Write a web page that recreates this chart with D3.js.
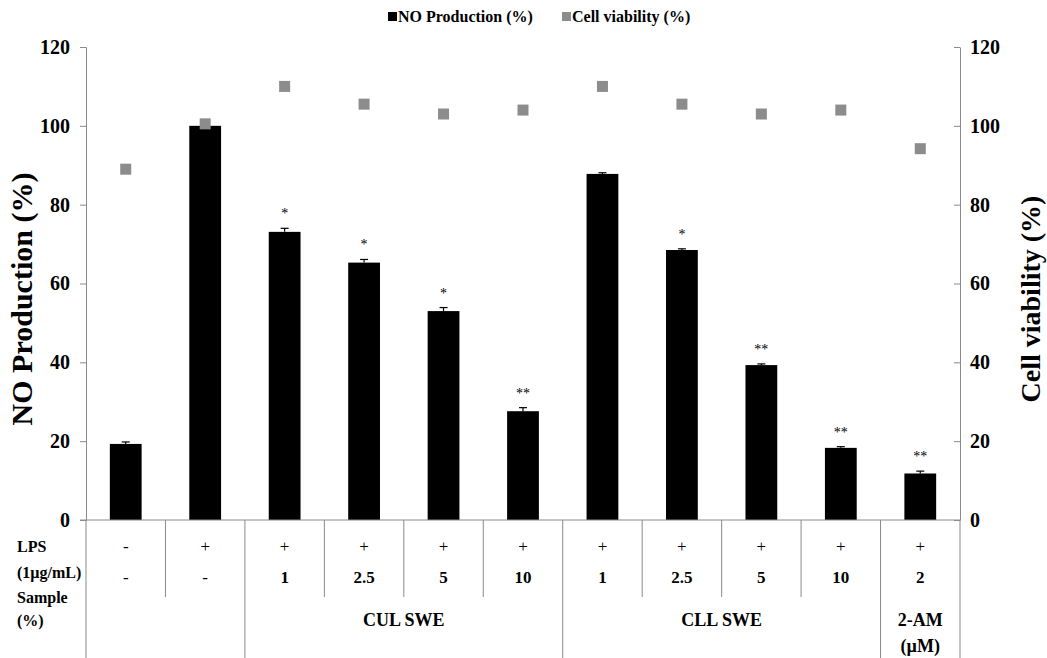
<!DOCTYPE html>
<html>
<head>
<meta charset="utf-8">
<script src="https://cdn.jsdelivr.net/npm/d3@7"></script>
<style>
body { margin: 0; background: #fff; }
text { font-family: "Liberation Serif", "Times New Roman", serif; }
</style>
</head>
<body>
<div id="vis"></div>
<script>
var groups = ['c1', 'c2', 'c3', 'c4', 'c5', 'c6', 'c7', 'c8', 'c9', 'c10', 'c11'];
var no_values = [19.3, 100, 73.1, 65.3, 53, 27.6, 87.8, 68.5, 39.3, 18.3, 11.8];
var no_errors = [0.5, 0.2, 0.9, 0.8, 0.9, 0.9, 0.3, 0.3, 0.3, 0.3, 0.6];
var viability = [89, 100.5, 110, 105.5, 103, 104, 110, 105.5, 103, 104, 94.2];
var stars = ['', '', '*', '*', '*', '**', '', '*', '**', '**', '**'];
var lps_row = ['-', '+', '+', '+', '+', '+', '+', '+', '+', '+', '+'];
var sample_row = ['-', '-', '1', '2.5', '5', '10', '1', '2.5', '5', '10', '2'];
var y_ticks = [0, 20, 40, 60, 80, 100, 120];

var width = 1047, height = 658;
var margin = { top: 47, left: 86, right: 87, bottom: 138 };
var plot_w = width - margin.left - margin.right;
var plot_h = height - margin.top - margin.bottom;

var svg = d3.select('#vis')
    .append('svg')
    .attr('width', width)
    .attr('height', height);

var g = svg.append('g')
    .attr('transform', 'translate(' + margin.left + ',' + margin.top + ')');

var x_scale = d3.scaleBand()
    .domain(groups)
    .range([0, plot_w])
    .paddingInner(0.6)
    .paddingOuter(0.3);

var y_scale = d3.scaleLinear()
    .domain([0, 120])
    .range([plot_h, 0]);

var axis_col = '#8a8a8a';

// left axis
var y_left = g.append('g')
    .call(d3.axisLeft(y_scale).tickValues(y_ticks).tickSize(6).tickPadding(10));
y_left.select('.domain').attr('stroke', axis_col);
y_left.selectAll('.tick line').attr('stroke', axis_col);
y_left.selectAll('.tick text')
    .attr('font-size', 20).attr('font-weight', 'bold')
    .attr('font-family', 'Liberation Serif').attr('fill', '#000');

// right axis (ticks drawn inward like the source)
var y_right = g.append('g')
    .attr('transform', 'translate(' + plot_w + ',0)')
    .call(d3.axisRight(y_scale).tickValues(y_ticks).tickSize(0).tickPadding(10));
y_right.select('.domain').attr('stroke', axis_col);
y_right.selectAll('.tick').append('line')
    .attr('x1', -6).attr('x2', 0).attr('stroke', axis_col);
y_right.selectAll('.tick text')
    .attr('font-size', 20).attr('font-weight', 'bold')
    .attr('font-family', 'Liberation Serif').attr('fill', '#000');

// bars
g.selectAll('.bar')
    .data(groups)
    .enter()
    .append('rect')
    .attr('class', 'bar')
    .attr('x', function (d) { return x_scale(d); })
    .attr('width', x_scale.bandwidth())
    .attr('y', function (d, i) { return y_scale(no_values[i]); })
    .attr('height', function (d, i) { return plot_h - y_scale(no_values[i]); })
    .attr('fill', '#000');

// error bars
var err = g.selectAll('.err')
    .data(groups)
    .enter()
    .append('g')
    .attr('class', 'err')
    .attr('transform', function (d) {
        return 'translate(' + (x_scale(d) + x_scale.bandwidth() / 2) + ',0)';
    });
err.append('line')
    .attr('x1', 0).attr('x2', 0)
    .attr('y1', function (d, i) { return y_scale(no_values[i]); })
    .attr('y2', function (d, i) { return y_scale(no_values[i] + no_errors[i]); })
    .attr('stroke', '#000').attr('stroke-width', 1.2);
err.append('line')
    .attr('x1', -4).attr('x2', 4)
    .attr('y1', function (d, i) { return y_scale(no_values[i] + no_errors[i]); })
    .attr('y2', function (d, i) { return y_scale(no_values[i] + no_errors[i]); })
    .attr('stroke', '#000').attr('stroke-width', 1.2);

// significance marks
g.selectAll('.star')
    .data(groups)
    .enter()
    .append('text')
    .attr('class', 'star')
    .attr('x', function (d) { return x_scale(d) + x_scale.bandwidth() / 2; })
    .attr('y', function (d, i) { return y_scale(no_values[i] + no_errors[i]) - 10; })
    .attr('text-anchor', 'middle')
    .attr('font-size', 14)
    .attr('fill', '#000')
    .text(function (d, i) { return stars[i]; });

// cell viability markers
g.selectAll('.via')
    .data(groups)
    .enter()
    .append('rect')
    .attr('class', 'via')
    .attr('x', function (d) { return x_scale(d) + x_scale.bandwidth() / 2 - 5.5; })
    .attr('y', function (d, i) { return y_scale(viability[i]) - 5.5; })
    .attr('width', 11)
    .attr('height', 11)
    .attr('fill', '#8c8c8c');

// x baseline
g.append('line')
    .attr('x1', -6).attr('x2', plot_w)
    .attr('y1', plot_h).attr('y2', plot_h)
    .attr('stroke', axis_col);

// table under the chart
var full_lines = [0, 2, 6, 10, 11];
var short_lines = [1, 3, 4, 5, 7, 8, 9];
g.selectAll('.vfull')
    .data(full_lines)
    .enter()
    .append('line')
    .attr('x1', function (k) { return k * plot_w / 11; })
    .attr('x2', function (k) { return k * plot_w / 11; })
    .attr('y1', plot_h).attr('y2', height - margin.top)
    .attr('stroke', axis_col);
g.selectAll('.vshort')
    .data(short_lines)
    .enter()
    .append('line')
    .attr('x1', function (k) { return k * plot_w / 11; })
    .attr('x2', function (k) { return k * plot_w / 11; })
    .attr('y1', plot_h).attr('y2', plot_h + 77)
    .attr('stroke', axis_col);

var cx = function (d) { return x_scale(d) + x_scale.bandwidth() / 2; };

g.selectAll('.lps')
    .data(groups)
    .enter()
    .append('text')
    .attr('x', cx)
    .attr('y', plot_h + 32)
    .attr('text-anchor', 'middle')
    .attr('font-size', 17)
    .text(function (d, i) { return lps_row[i]; });

g.selectAll('.smp')
    .data(groups)
    .enter()
    .append('text')
    .attr('x', cx)
    .attr('y', plot_h + 63)
    .attr('text-anchor', 'middle')
    .attr('font-size', 17)
    .attr('font-weight', function (d, i) { return sample_row[i] == '-' ? 'normal' : 'bold'; })
    .text(function (d, i) { return sample_row[i]; });

var group_labels = [
    { text: 'CUL SWE', from: 2, to: 6, y: 106 },
    { text: 'CLL SWE', from: 6, to: 10, y: 106 },
    { text: '2-AM', from: 10, to: 11, y: 106 },
    { text: '(\u00b5M)', from: 10, to: 11, y: 132 }
];
g.selectAll('.grp')
    .data(group_labels)
    .enter()
    .append('text')
    .attr('x', function (d) { return (d.from + d.to) / 2 * plot_w / 11; })
    .attr('y', function (d) { return plot_h + d.y; })
    .attr('text-anchor', 'middle')
    .attr('font-size', 18)
    .attr('font-weight', 'bold')
    .text(function (d) { return d.text; });

var row_labels = [
    { text: 'LPS', y: 552 },
    { text: '(1\u00b5g/mL)', y: 578 },
    { text: 'Sample', y: 603 },
    { text: '(%)', y: 626 }
];
svg.selectAll('.rowlab')
    .data(row_labels)
    .enter()
    .append('text')
    .attr('x', 17)
    .attr('y', function (d) { return d.y; })
    .attr('font-size', 16)
    .attr('font-weight', 'bold')
    .text(function (d) { return d.text; });

// axis titles
svg.append('text')
    .attr('transform', 'translate(32,299) rotate(-90)')
    .attr('text-anchor', 'middle')
    .attr('font-size', 30)
    .attr('font-weight', 'bold')
    .text('NO Production (%)');

svg.append('text')
    .attr('transform', 'translate(1040,299) rotate(-90)')
    .attr('text-anchor', 'middle')
    .attr('font-size', 28)
    .attr('font-weight', 'bold')
    .text('Cell viability (%)');

// legend
var legend = [
    { text: 'NO Production (%)', color: '#000', x: 388 },
    { text: 'Cell viability (%)', color: '#8c8c8c', x: 562 }
];
var lg = svg.selectAll('.leg')
    .data(legend)
    .enter()
    .append('g')
    .attr('transform', function (d) { return 'translate(' + d.x + ',0)'; });
lg.append('rect')
    .attr('x', 0).attr('y', 12)
    .attr('width', 9).attr('height', 9)
    .attr('fill', function (d) { return d.color; });
lg.append('text')
    .attr('x', 10).attr('y', 22)
    .attr('font-size', 16)
    .attr('font-weight', 'bold')
    .text(function (d) { return d.text; });
</script>
</body>
</html>
